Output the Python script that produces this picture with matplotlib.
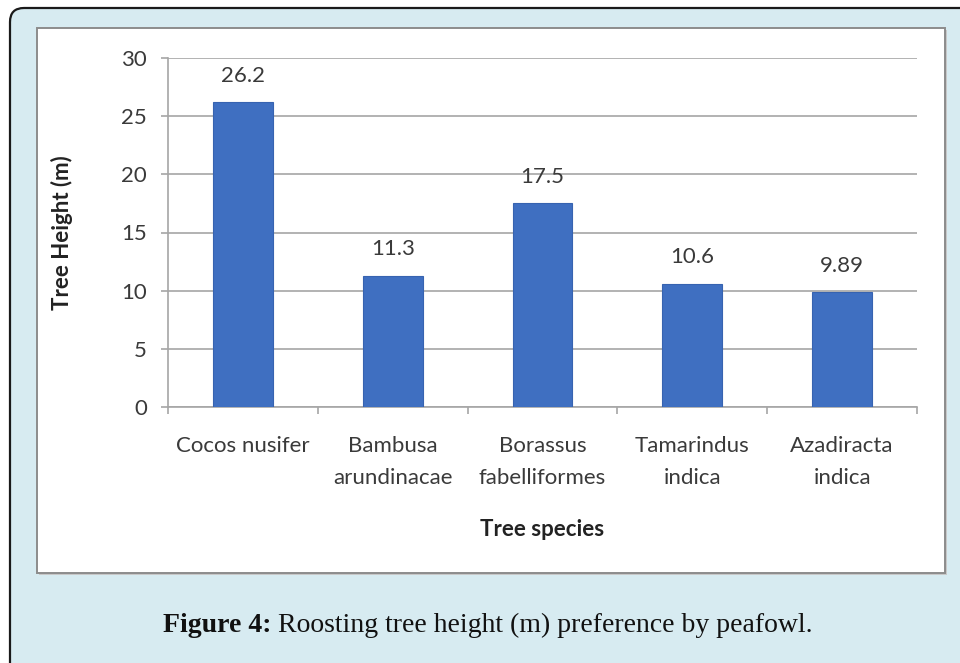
import matplotlib.pyplot as plt
from matplotlib.patches import FancyBboxPatch, Rectangle
from matplotlib.transforms import blended_transform_factory, IdentityTransform

# Roosting tree heights (m) by species
species = ['Cocos nusifer', 'Bambusa\narundinacae', 'Borassus\nfabelliformes',
           'Tamarindus\nindica', 'Azadiracta\nindica']
heights = [26.2, 11.3, 17.5, 10.6, 9.89]
height_labels = ['26.2', '11.3', '17.5', '10.6', '9.89']
y_ticks = [0, 5, 10, 15, 20, 25, 30]

W, H = 960, 663
FONT = 'Lato'
TXT = '#3a3a3a'
GRID = '#a6a6a6'

fig = plt.figure(figsize=(W / 100, H / 100), dpi=100)
fig.patch.set_facecolor('white')

# background layer in pixel units for the frame and panel
bg = fig.add_axes([0, 0, 1, 1], zorder=0)
bg.set_xlim(0, W)
bg.set_ylim(H, 0)
bg.axis('off')

frame = FancyBboxPatch((10, 8), 1000, 700, boxstyle='round,pad=0,rounding_size=14',
                       facecolor='#d7ebf1', edgecolor='#1a1a1a', linewidth=1.6)
bg.add_patch(frame)

# chart panel with a soft shadow
bg.add_patch(Rectangle((39, 30), 908, 545, facecolor='#c8c8c8', edgecolor='none'))
bg.add_patch(Rectangle((37, 28), 908, 545, facecolor='white', edgecolor='#8c8c8c', linewidth=1.4))

# caption: bold label followed by regular text
cap1 = bg.text(163, 625, 'Figure 4:', fontsize=20, family='Liberation Serif', fontweight='bold',
               ha='left', va='center', color='#111111')
fig.canvas.draw()
x_end = cap1.get_window_extent().x1
bg.text(x_end + 6, 625, 'Roosting tree height (m) preference by peafowl.', fontsize=20,
        family='Liberation Serif', ha='left', va='center', color='#111111',
        transform=blended_transform_factory(IdentityTransform(), bg.transData))

# bar chart
ax = fig.add_axes([168 / W, 1 - 407 / H, (917 - 168) / W, (407 - 58) / H], zorder=2)
ax.patch.set_alpha(0)
x = range(len(species))
bars = ax.bar(x, heights, width=0.4, color='#3f6fc1', edgecolor='#3763b0', linewidth=0.8, zorder=3)

for bar, lab in zip(bars, height_labels):
    ax.text(bar.get_x() + bar.get_width() / 2, bar.get_height() + 1.4, lab,
            ha='center', va='bottom', fontsize=16, family=FONT, color=TXT)

ax.set_xlim(-0.5, len(species) - 0.5)
ax.set_ylim(0, 30)
ax.set_yticks(y_ticks)
ax.set_yticklabels([str(t) for t in y_ticks], family=FONT, fontsize=16, color=TXT)
ax.yaxis.grid(True, color=GRID, linewidth=1.2, zorder=0)
ax.set_axisbelow(True)

# category ticks sit between bars
ax.set_xticks([i - 0.5 for i in range(len(species) + 1)])
ax.set_xticklabels([])
ax.set_xticks(list(x), minor=True)
ax.set_xticklabels(species, minor=True, family=FONT, fontsize=16, color=TXT,
                   linespacing=1.75)
ax.tick_params(axis='x', which='minor', length=0, pad=21)
ax.tick_params(axis='x', which='major', length=5, color=GRID, width=1.2)
ax.tick_params(axis='y', length=5, color=GRID, width=1.2, pad=10)

for s in ['top', 'right']:
    ax.spines[s].set_visible(False)
for s in ['left', 'bottom']:
    ax.spines[s].set_color(GRID)
    ax.spines[s].set_linewidth(1.2)

ax.set_xlabel('Tree species', family=FONT, fontweight='bold', fontsize=16, color='#222222',
              va='center')
ax.set_ylabel('Tree Height (m)', family=FONT, fontweight='bold', fontsize=16, color='#222222',
              va='center')
ax.xaxis.set_label_coords(0.5, (407 - 530) / 349)
ax.yaxis.set_label_coords((62 - 168) / 749, 0.5)

fig.savefig('out.png', dpi=100)
